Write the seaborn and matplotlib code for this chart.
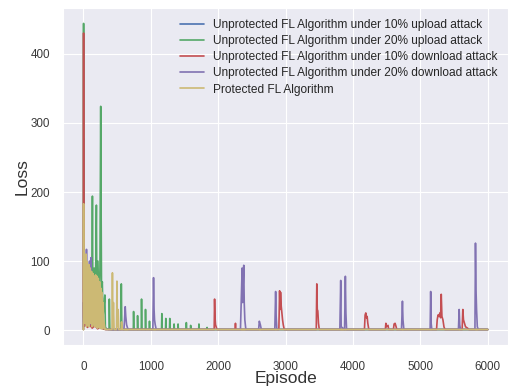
import pandas as pd
import matplotlib.pyplot as plt
import seaborn as sns

# series labels + colours (old seaborn "deep")
labels = ['Unprotected FL Algorithm under 10% upload attack',
          'Unprotected FL Algorithm under 20% upload attack',
          'Unprotected FL Algorithm under 10% download attack',
          'Unprotected FL Algorithm under 20% download attack',
          'Protected FL Algorithm']
colors = ['#4C72B0', '#55A868', '#C44E52', '#8172B2', '#CCB974']

# valores (episode, loss)
up10_ep = [0, 4, 8, 12, 20, 30, 40, 60, 80, 100, 130, 160, 200, 250, 300, 400, 6000]
up10_loss = [40, 12, 277, 15, 10, 18, 8, 14, 6, 12, 5, 9, 4, 6, 2, 1, 1]

up20_ep = [0, 2, 4, 10, 20, 30, 50, 70, 90, 110, 125, 133, 140, 160, 175, 192, 200, 215,
           230, 245, 256, 262, 268, 280, 290, 305, 318, 325, 340, 380, 384, 392, 410,
           555, 562, 570, 590, 740, 744, 750, 800, 803, 808, 858, 862, 868, 918, 921, 926,
           976, 980, 985, 1159, 1163, 1168, 1218, 1222, 1227, 1277, 1281, 1286, 1341, 1345,
           1350, 1400, 1404, 1409, 1523, 1527, 1532, 1587, 1591, 1596, 1710, 1714, 1719,
           1830, 1835, 1840, 6000]
up20_loss = [1, 444, 60, 30, 80, 20, 60, 15, 70, 20, 40, 194, 30, 90, 25, 181, 40, 100,
             30, 90, 324, 180, 60, 70, 20, 35, 51, 5, 2, 1, 45, 2, 1,
             1, 67, 2, 1, 1, 27, 1, 1, 21, 1, 1, 45, 1, 1, 30, 1,
             1, 13, 1, 1, 24, 1, 1, 17, 1, 1, 17, 1, 1, 9,
             1, 1, 9, 1, 1, 11, 1, 1, 7, 1, 1, 9, 1,
             1, 4, 1, 1]

down10_ep = [0, 2, 4, 8, 15, 30, 60, 90, 130, 170, 210, 250, 290, 330,
             1940, 1946, 1952, 1960, 1975, 1985, 2250, 2256, 2262,
             2900, 2911, 2918, 2925, 2935, 2945, 2955, 2965, 2980,
             3455, 3463, 3470, 3478, 3488, 3500,
             4170, 4180, 4190, 4200, 4210, 4220, 4235,
             4480, 4488, 4495, 4520, 4530, 4600, 4610, 4625, 4640, 4650,
             5240, 5250, 5262, 5275, 5290, 5300, 5310, 5320, 5335, 5350, 5365,
             5620, 5630, 5640, 5655, 5670, 5700, 5720, 6000]
down10_loss = [1, 430, 20, 10, 6, 9, 4, 8, 3, 7, 2, 5, 2, 1,
               1, 45, 20, 8, 3, 1, 1, 10, 1,
               1, 57, 30, 55, 35, 25, 15, 8, 1,
               1, 67, 30, 28, 10, 1,
               1, 22, 25, 18, 20, 10, 1,
               1, 10, 5, 7, 1, 1, 9, 10, 5, 1,
               1, 15, 22, 20, 25, 18, 52, 20, 15, 5, 1,
               1, 30, 15, 10, 5, 3, 1, 1]

down20_ep = [0, 5, 10, 18, 25, 32, 38, 45, 52, 60, 67, 75, 82, 90, 97, 105, 113, 120,
             128, 136, 145, 152, 160, 168, 176, 184, 192, 200, 210, 218, 226, 234, 242,
             250, 258, 266, 275, 285, 300, 315, 330, 600, 610, 620, 628, 640, 655, 670,
             1030, 1040, 1048, 1055, 1065, 1080, 2330, 2355, 2362, 2379, 2386, 2395, 2410,
             2600, 2610, 2625, 2640, 2840, 2852, 2860, 2870, 3805, 3818, 3825, 3875, 3887,
             3895, 3905, 4720, 4734, 4742, 4755, 5145, 5153, 5160, 5170, 5565, 5576, 5584,
             5595, 5810, 5818, 5826, 5834, 5845, 5860, 6000]
down20_loss = [5, 40, 15, 60, 10, 90, 20, 117, 15, 95, 10, 80, 25, 100, 12, 70, 105, 20,
               60, 10, 75, 15, 50, 8, 60, 12, 45, 6, 55, 10, 35, 5, 40,
               8, 25, 4, 20, 3, 10, 2, 1, 1, 15, 34, 20, 8, 3, 1,
               1, 76, 30, 15, 8, 1, 1, 90, 40, 94, 40, 15, 1,
               1, 13, 8, 1, 1, 56, 20, 1, 1, 72, 5, 1, 78,
               25, 1, 1, 42, 15, 1, 1, 56, 10, 1, 1, 30, 8,
               1, 1, 126, 58, 30, 5, 1, 1]

prot_ep = [0, 2, 5, 10, 15, 20, 25, 30, 35, 40, 45, 50, 55, 60, 65, 70, 75, 80, 85, 90,
           95, 100, 105, 110, 115, 120, 125, 130, 135, 140, 145, 150, 155, 160, 165, 170,
           175, 180, 185, 190, 195, 200, 205, 210, 215, 220, 225, 230, 235, 240, 245, 250,
           255, 260, 265, 270, 275, 280, 285, 290, 300, 310, 320, 330, 340,
           424, 430, 436, 445, 455, 490, 497, 503, 515, 525, 560, 565, 575, 6000]
prot_loss = [1, 183, 60, 115, 30, 110, 10, 105, 20, 110, 5, 100, 25, 95, 8, 90, 30, 95,
             5, 85, 20, 90, 10, 80, 30, 85, 5, 80, 20, 82, 8, 75, 25, 78, 5, 75,
             15, 80, 5, 72, 20, 78, 3, 70, 15, 75, 4, 65, 10, 70, 3, 62,
             8, 60, 2, 55, 5, 45, 2, 40, 15, 8, 1, 2, 1,
             1, 83, 5, 40, 1, 1, 71, 5, 30, 1, 1, 12, 1, 1]

series = [(up10_ep, up10_loss), (up20_ep, up20_loss), (down10_ep, down10_loss),
          (down20_ep, down20_loss), (prot_ep, prot_loss)]
df = pd.concat([pd.DataFrame({'Episode': e, 'Loss': l, 'Serie': lab})
                for (e, l), lab in zip(series, labels)], ignore_index=True)

sns.set_style('darkgrid')
plt.rcParams['font.family'] = ['Liberation Sans', 'DejaVu Sans']

fig, ax = plt.subplots(figsize=(5.1, 3.87), dpi=100)
fig.subplots_adjust(left=0.124, right=0.996, bottom=0.109, top=0.979)

sns.lineplot(data=df, x='Episode', y='Loss', hue='Serie', palette=dict(zip(labels, colors)),
             estimator=None, sort=False, linewidth=1.2, ax=ax)

ax.set_xticks(range(0, 7000, 1000))
ax.set_yticks(range(0, 500, 100))
ax.tick_params(labelsize=8.4, colors='#3a3a3a')
ax.tick_params(axis='x', pad=8)
ax.tick_params(axis='y', pad=6)
ax.set_xlabel('Episode', fontsize=12.5, labelpad=-1, color='#333333')
ax.set_ylabel('Loss', fontsize=12.5, labelpad=1, color='#333333')

h, l = ax.get_legend_handles_labels()
ax.legend(h, l, loc='upper right', frameon=False, fontsize=8.6, labelspacing=0.35,
          handlelength=2.0, handletextpad=0.75)

plt.savefig('out.png', dpi=100)
